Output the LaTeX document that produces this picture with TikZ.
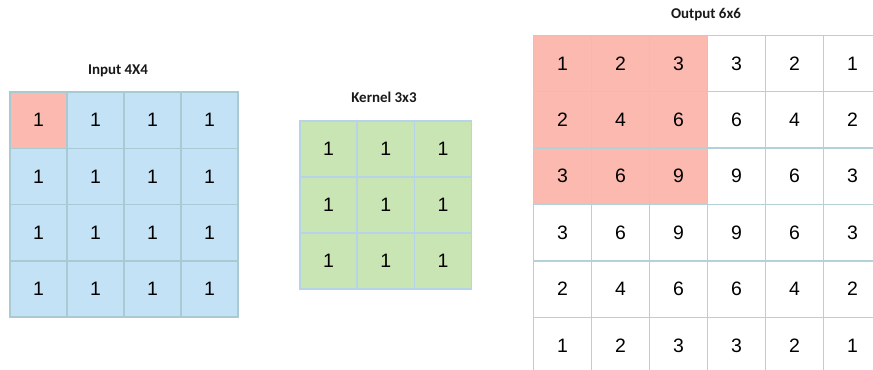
\documentclass[tikz,border=0pt]{standalone}
\usepackage{fontspec}
\setmainfont{Liberation Sans}
\newfontfamily\titlefont{Carlito}
\definecolor{inblue}{HTML}{C4E2F5}
\definecolor{hired}{HTML}{FBB9B0}
\definecolor{kgreen}{HTML}{C9E5B3}
\definecolor{inline}{HTML}{A9C9D3}
\definecolor{kline}{HTML}{B7D3E8}
\definecolor{outline}{HTML}{B5D1D8}
\tikzset{
  cellbase/.style={line width=1.5bp, inner sep=0pt, anchor=center,
    font=\fontsize{19.5}{21}\selectfont},
  incell/.style={cellbase, draw=inline, fill=inblue, minimum width=57bp, minimum height=56.25bp},
  kcell/.style={cellbase, draw=kline, fill=kgreen, minimum width=57.2bp, minimum height=56bp},
  outcell/.style={cellbase, draw=outline, fill=white, minimum width=58bp, minimum height=56.4bp},
  hot/.style={fill=hired},
  gridtitle/.style={font=\titlefont\bfseries\fontsize{15}{17}\selectfont, text=black!90, anchor=center}
}
\begin{document}
\begin{tikzpicture}[x=1bp, y=-1bp]
  \clip (0,0) rectangle (873,369);
  \fill[white] (0,0) rectangle (873,369);

  % input 4x4
  \node[gridtitle] (intitle) at (118,71) {Input 4X4};
  \foreach \r in {1,...,4}{
    \foreach \c in {1,...,4}{
      \node[incell] (in-\r-\c) at ({10+57*(\c-0.5)},{92+56.25*(\r-0.5)}) {1};
    }
  }
  \node[incell, hot] (in-1-1) at ({10+57*0.5},{92+56.25*0.5}) {1};

  % kernel 3x3
  \node[gridtitle] (ktitle) at (384,97) {Kernel 3x3};
  \foreach \r in {1,...,3}{
    \foreach \c in {1,...,3}{
      \node[kcell] (k-\r-\c) at ({300+57.2*(\c-0.5)},{121+56*(\r-0.5)}) {1};
    }
  }

  % output 6x6
  \node[gridtitle] (outtitle) at (706,15) {Output 6x6};
  \foreach \r/\vals in {1/{1,2,3,3,2,1}, 2/{2,4,6,6,4,2}, 3/{3,6,9,9,6,3},
                        4/{3,6,9,9,6,3}, 5/{2,4,6,6,4,2}, 6/{1,2,3,3,2,1}}{
    \foreach \v [count=\c] in \vals{
      \pgfmathsetmacro{\ishot}{(\r<4)&&(\c<4) ? 1 : 0}
      \ifdim\ishot pt>0.5pt
        \node[outcell, hot] (out-\r-\c) at ({533.5+58*(\c-0.5)},{35.3+56.4*(\r-0.5)}) {\v};
      \else
        \node[outcell] (out-\r-\c) at ({533.5+58*(\c-0.5)},{35.3+56.4*(\r-0.5)}) {\v};
      \fi
    }
  }
\end{tikzpicture}
\end{document}
